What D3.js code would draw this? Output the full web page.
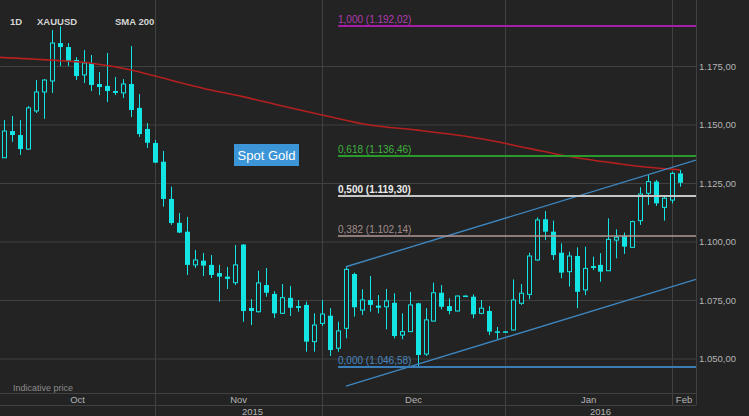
<!DOCTYPE html>
<html><head><meta charset="utf-8">
<script src="https://cdn.jsdelivr.net/npm/d3@7"></script>
<style>html,body{margin:0;padding:0;background:#232323;overflow:hidden}svg{display:block}</style>
</head><body><svg id="c" width="749" height="416"></svg>
<script>
// ---- data (daily candles, index 0 = first visible trading day) ----
const open  = [1135.8,1147.2,1145.5,1139.5,1155.8,1163.9,1168.6,1184.8,1183.1,1177.6,1171.2,1176.3,1167.3,1166.5,1164.3,1163.5,1167.3,1157.1,1148.1,1142.1,1134.1,1118.2,1108.0,1104.2,1090.0,1091.8,1090.0,1086.5,1085.0,1082.4,1098.7,1071.6,1070.0,1081.4,1077.6,1069.3,1075.9,1072.4,1072.9,1057.2,1065.0,1068.3,1054.4,1062.9,1086.1,1070.7,1075.0,1072.6,1072.1,1073.8,1060.0,1061.5,1073.6,1051.9,1066.0,1078.1,1072.4,1070.3,1076.9,1076.4,1069.3,1070.3,1061.6,1061.6,1062.2,1073.6,1077.4,1092.1,1109.5,1104.2,1095.2,1087.1,1093.8,1079.3,1089.5,1090.0,1087.5,1100.6,1102.4,1097.5,1108.9,1120.6,1125.6,1114.6,1117.7,1129.1];
const high  = [1151.9,1153.6,1151.9,1157.9,1169.0,1169.4,1190.4,1192.0,1184.8,1178.8,1181.8,1179.7,1172.4,1180.6,1170.3,1169.4,1183.5,1163.0,1150.6,1143.4,1138.7,1123.4,1112.2,1110.5,1096.4,1095.1,1094.2,1090.0,1089.1,1098.5,1098.9,1075.4,1087.5,1088.7,1078.8,1081.8,1081.0,1075.0,1074.3,1069.3,1075.0,1071.5,1065.7,1089.2,1086.7,1079.6,1085.3,1077.1,1079.7,1077.9,1069.3,1078.5,1073.8,1071.5,1082.4,1081.4,1075.7,1076.9,1077.0,1077.4,1075.0,1072.4,1063.5,1061.8,1083.8,1081.8,1095.2,1110.3,1113.0,1108.9,1099.2,1095.6,1097.5,1097.8,1093.5,1095.0,1109.9,1105.2,1103.8,1108.9,1123.2,1128.4,1126.3,1119.9,1129.8,1130.6];
const low   = [1135.7,1142.6,1137.0,1139.3,1154.9,1152.4,1163.5,1175.0,1175.0,1169.0,1167.7,1164.3,1162.6,1159.6,1162.6,1161.3,1153.2,1144.7,1140.0,1133.5,1114.9,1107.1,1103.6,1085.7,1088.7,1085.3,1084.4,1074.3,1079.7,1081.4,1065.7,1064.3,1069.6,1076.4,1067.3,1069.0,1068.2,1070.0,1052.9,1052.9,1063.9,1051.1,1052.9,1058.6,1067.9,1068.6,1070.0,1069.3,1062.5,1058.6,1058.2,1061.3,1046.6,1051.1,1065.8,1071.0,1068.9,1070.1,1076.6,1067.2,1068.9,1060.0,1058.2,1061.3,1062.0,1072.9,1075.3,1091.8,1100.6,1092.1,1084.3,1080.7,1071.5,1077.1,1087.8,1082.8,1087.4,1092.8,1094.7,1097.4,1107.1,1115.6,1115.2,1108.9,1116.3,1123.4];
const close = [1147.2,1145.5,1139.5,1157.1,1163.9,1169.0,1184.8,1183.1,1177.1,1170.7,1176.3,1166.9,1166.0,1164.3,1163.5,1167.3,1156.2,1145.9,1142.2,1133.7,1118.2,1107.9,1103.8,1090.0,1092.1,1089.7,1085.7,1085.0,1084.0,1090.0,1070.3,1070.3,1082.3,1078.1,1069.3,1076.0,1071.7,1071.6,1057.2,1064.3,1069.0,1053.6,1061.8,1088.1,1071.9,1075.0,1072.9,1071.7,1074.6,1059.6,1061.5,1072.9,1051.5,1066.5,1078.1,1072.1,1070.3,1076.7,1076.7,1068.9,1071.5,1061.5,1061.4,1061.5,1075.0,1077.9,1093.8,1109.2,1104.2,1094.2,1086.7,1093.8,1078.5,1088.5,1088.7,1087.1,1100.9,1101.8,1097.8,1108.5,1120.3,1125.6,1116.3,1118.5,1129.1,1125.1];

// SMA 200 read at selected candle positions
const smaIdx = [-0.5,6,11,16,19,25,30,35,40,46,52,60,66,70,77,81,85];
const smaVal = [1178.7,1177.5,1176.2,1173.3,1170.7,1165.5,1161.9,1157.9,1154.1,1149.8,1147.6,1143.9,1139.8,1137.0,1133.4,1131.7,1130.6];

// Fibonacci retracement levels
const fibRatio = [1, 0.618, 0.5, 0.382, 0];
const fibPrice = [1192.02, 1136.46, 1119.30, 1102.14, 1046.58];
const fibStartIdx = 42;

// Trend channel (start/end candle position, price)
const chanIdx   = [43, 87];
const chanUpper = [1089.2, 1134.8];
const chanLower = [1038.2, 1083.8];

// axes
const yTicks = [1050, 1075, 1100, 1125, 1150, 1175];
const monthLabels = ["Oct","Nov","Dec","Jan","Feb"];
const monthStart  = [-3, 19, 40, 63, 84];
const yearLabels  = ["2015","2016"];
const yearStart   = [-190, 63];

// ---- drawing ----
const W = 749, H = 416, plotR = 696, axisY = 393, axisY2 = 405;
const bg = "#232323", grid = "#414141", txt = "#b4b4b4", candle = "#13e4e4";
const font = "'Liberation Sans', Arial, sans-serif";
const svg = d3.select("#c");
svg.append("rect").attr("width", W).attr("height", H).attr("fill", bg);

const x = d3.scaleLinear().domain([0, 85]).range([4, 680]);
const y = d3.scaleLinear().domain([1050, 1175]).range([358.5, 66]);

const loc = d3.formatLocale({decimal: ",", thousands: ".", grouping: [3], currency: ["", ""]});
const fmtPrice = loc.format(",.2f");
const fmtRatio = loc.format(".3f");

svg.append("defs").append("clipPath").attr("id", "pc")
  .append("rect").attr("x", 0).attr("y", 0).attr("width", plotR).attr("height", axisY);

// horizontal grid + right axis
svg.append("g").attr("transform", `translate(${plotR},0)`)
  .call(d3.axisRight(y).tickValues(yTicks).tickSize(-plotR).tickPadding(3).tickFormat(fmtPrice))
  .call(g => {
    g.select(".domain").remove();
    g.selectAll("line").attr("stroke", grid);
    g.selectAll("text").attr("fill", txt).attr("font-size", 9.5).attr("font-family", font);
  });

// month / year axis
const clampX = v => Math.max(0, Math.min(plotR, v));
const monthPos = monthStart.map(i => clampX(x(i)));
const monthEnd = monthPos.slice(1).concat([plotR]);
const gx = svg.append("g");
gx.selectAll("line.m").data(monthStart.slice(1)).join("line").attr("class", "m")
  .attr("x1", i => Math.round(x(i)) + 0.5).attr("x2", i => Math.round(x(i)) + 0.5)
  .attr("y1", 0).attr("y2", (d, k, a) => k === a.length - 1 ? axisY2 : H)
  .attr("stroke", grid);
[axisY, axisY2].forEach(v => gx.append("line").attr("x1", 0).attr("x2", plotR)
  .attr("y1", v + 0.5).attr("y2", v + 0.5).attr("stroke", grid));
gx.append("line").attr("x1", plotR + 0.5).attr("x2", plotR + 0.5).attr("y1", 0).attr("y2", axisY2).attr("stroke", grid);
gx.selectAll("text.m").data(monthLabels).join("text").attr("class", "m")
  .attr("x", (d, k) => (monthPos[k] + monthEnd[k]) / 2).attr("y", 402.5)
  .attr("text-anchor", "middle").attr("fill", txt).attr("font-size", 9.5).attr("font-family", font).text(d => d);
const yearPos = yearStart.map(i => clampX(x(i)));
const yearEnd = yearPos.slice(1).concat([plotR]);
gx.selectAll("text.y").data(yearLabels).join("text").attr("class", "y")
  .attr("x", (d, k) => (yearPos[k] + yearEnd[k]) / 2).attr("y", 415)
  .attr("text-anchor", "middle").attr("fill", txt).attr("font-size", 9.5).attr("font-family", font).text(d => d);

const plot = svg.append("g").attr("clip-path", "url(#pc)");

// candles
const idx = d3.range(open.length);
const cg = plot.append("g");
cg.selectAll("line").data(idx).join("line")
  .attr("x1", i => Math.round(x(i)) + 0.5).attr("x2", i => Math.round(x(i)) + 0.5)
  .attr("y1", i => y(high[i])).attr("y2", i => y(low[i]))
  .attr("stroke", candle).attr("stroke-width", 1);
cg.selectAll("rect").data(idx).join("rect")
  .attr("x", i => close[i] >= open[i] ? Math.round(x(i)) - 1.5 : Math.round(x(i)) - 2)
  .attr("width", i => close[i] >= open[i] ? 4 : 5)
  .attr("y", i => y(Math.max(open[i], close[i])))
  .attr("height", i => Math.max(1.5, Math.abs(y(open[i]) - y(close[i]))))
  .attr("fill", i => close[i] >= open[i] ? bg : candle)
  .attr("stroke", i => close[i] >= open[i] ? candle : "none")
  .attr("stroke-width", 1);

// SMA 200
plot.append("path")
  .datum(smaIdx.map((d, k) => [d, smaVal[k]]))
  .attr("d", d3.line().x(d => x(d[0])).y(d => y(d[1])).curve(d3.curveMonotoneX))
  .attr("fill", "none").attr("stroke", "#b3201f").attr("stroke-width", 1.6);

// channel
[chanUpper, chanLower].forEach(vals => plot.append("path")
  .datum(chanIdx.map((d, k) => [d, vals[k]]))
  .attr("d", d3.line().x(d => x(d[0])).y(d => y(d[1])))
  .attr("fill", "none").attr("stroke", "#3e86bf").attr("stroke-width", 1.4));

// fib levels
const fibLine = ["#a41fa4", "#2a9a2a", "#c6c6c6", "#b49898", "#3b7db6"];
const fibText = ["#b23cb2", "#3fb23f", "#ececec", "#a48c8c", "#4a87bf"];
const fibW = [2, 2, 2, 1.6, 2];
const fg = plot.append("g");
fibPrice.forEach((p, k) => {
  const yy = Math.round(y(p));
  fg.append("line").attr("x1", x(fibStartIdx)).attr("x2", plotR).attr("y1", yy).attr("y2", yy)
    .attr("stroke", fibLine[k]).attr("stroke-width", fibW[k]);
  fg.append("text").attr("x", x(fibStartIdx)).attr("y", yy - 3.5)
    .attr("fill", fibText[k]).attr("font-size", 10).attr("font-family", font)
    .attr("font-weight", k === 2 ? "bold" : "normal")
    .text(`${fmtRatio(fibRatio[k])} (${fmtPrice(p)})`);
});

// header
const hdr = [["1D", 10], ["XAUUSD", 37], ["SMA 200", 115]];
svg.selectAll("text.h").data(hdr).join("text").attr("class", "h")
  .attr("x", d => d[1]).attr("y", 24.5).attr("fill", "#d4d4d4")
  .attr("font-size", 9.5).attr("font-weight", "bold").attr("font-family", font).text(d => d[0]);

svg.append("text").attr("x", 13).attr("y", 391).attr("fill", "#8c8c8c")
  .attr("font-size", 9).attr("font-family", font).text("Indicative price");

// Spot Gold tag
const tag = svg.append("g").attr("transform", "translate(234,144)");
tag.append("rect").attr("width", 65).attr("height", 22).attr("fill", "#3b95d6");
tag.append("text").attr("x", 32.5).attr("y", 15.5).attr("text-anchor", "middle")
  .attr("fill", "#ffffff").attr("font-size", 13).attr("font-family", font).text("Spot Gold");
</script></body></html>
